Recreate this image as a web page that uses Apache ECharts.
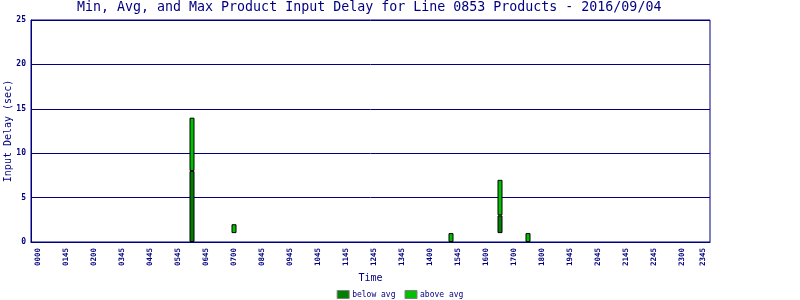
<!DOCTYPE html>
<html><head><meta charset="utf-8">
<script src="https://cdn.jsdelivr.net/npm/echarts@6/dist/echarts.min.js"></script>
<style>html,body{margin:0;padding:0;background:#fff}#c{width:800px;height:300px}</style>
</head><body><div id="c"></div>
<script>
// Time slots (HHMM) that have products, with min / avg / max input delay (sec)
const slotTimes = ['0530', '0700', '1445', '1630', '1730'];
const minDelay  = [0, 1, 0, 1, 0];
const avgDelay  = [8, 1, 0, 3, 0];
const maxDelay  = [14, 2, 1, 7, 1];

// X-axis: 15-minute slots; the labelled slots and the label text shown on them
const tickSlots  = ['0000','0100','0200','0300','0400','0500','0600','0700','0800','0900','1000','1100','1200','1300','1400','1500','1600','1700','1800','1900','2000','2100','2200','2300','2345'];
const tickLabels = ['0000','0145','0200','0345','0445','0545','0645','0700','0845','0945','1045','1145','1245','1345','1400','1545','1600','1700','1800','1945','2045','2145','2245','2300','2345'];

const NAVY = '#000080';
const FONT = "'DejaVu Sans Mono', 'Liberation Mono', monospace";

// category list: a pad slot before 0000, the 96 quarter-hour slots, and 2400 at the end
const pad2 = n => (n < 10 ? '0' : '') + n;
const categories = [''];
for (let h = 0; h < 24; h++) for (let m = 0; m < 60; m += 15) categories.push(pad2(h) + pad2(m));
categories.push('2400');

function seriesFor(fn) {
  return categories.map(c => {
    const i = slotTimes.indexOf(c);
    if (i < 0) return null;
    const v = fn(i);
    return v > 0 ? v : null;
  });
}
const baseData  = seriesFor(i => minDelay[i]);
const belowData = seriesFor(i => avgDelay[i] - minDelay[i]);
const aboveData = seriesFor(i => maxDelay[i] - avgDelay[i]);

const chart = echarts.init(document.getElementById('c'), null, { renderer: 'canvas' });
const barStyle = c => ({ color: c, borderColor: '#000', borderWidth: 1 });
chart.setOption({
  animation: false,
  backgroundColor: '#fff',
  title: {
    text: 'Min, Avg, and Max Product Input Delay for Line 0853 Products - 2016/09/04',
    left: 77, top: 1, padding: 0,
    textStyle: { color: NAVY, fontFamily: FONT, fontSize: 13.3, fontWeight: 'normal' }
  },
  legend: {
    data: ['below avg', 'above avg'],
    top: 290, left: 'center', padding: 0,
    itemWidth: 12, itemHeight: 8, itemGap: 9,
    icon: 'rect',
    itemStyle: { borderColor: '#808080', borderWidth: 1 },
    textStyle: { color: NAVY, fontFamily: FONT, fontSize: 8, padding: [0, 0, 0, -2] }
  },
  grid: {
    left: 31, right: 90, top: 20, bottom: 58,
    containLabel: false, outerBoundsMode: 'none',
    show: true, borderColor: NAVY, borderWidth: 1, backgroundColor: '#fff'
  },
  xAxis: {
    type: 'category', data: categories, boundaryGap: false,
    name: 'Time', nameLocation: 'middle', nameGap: 31, nameMoveOverlap: false,
    nameTextStyle: { color: NAVY, fontFamily: FONT, fontSize: 10 },
    axisLine: { show: true, onZero: false, lineStyle: { color: NAVY, width: 1 } },
    axisTick: { show: false },
    splitLine: { show: false },
    axisLabel: {
      interval: (idx, val) => tickSlots.indexOf(val) >= 0,
      rotate: 90, margin: 6,
      color: NAVY, fontFamily: FONT, fontSize: 7.5, fontWeight: 'bold',
      formatter: v => { const i = tickSlots.indexOf(v); return i >= 0 ? tickLabels[i] : ''; }
    }
  },
  yAxis: {
    type: 'value', min: 0, max: 25, interval: 5,
    name: 'Input Delay (sec)', nameLocation: 'middle', nameGap: 18, nameMoveOverlap: false,
    nameTextStyle: { color: NAVY, fontFamily: FONT, fontSize: 10 },
    axisLine: { show: true, onZero: false, lineStyle: { color: NAVY, width: 1 } },
    axisTick: { show: false },
    splitLine: { show: true, lineStyle: { color: NAVY, width: 1 } },
    axisLabel: { color: NAVY, fontFamily: FONT, fontSize: 8, fontWeight: 'bold', margin: 5 }
  },
  series: [
    { name: 'base', type: 'bar', stack: 'd', barWidth: 5, silent: true,
      itemStyle: { color: 'rgba(0,0,0,0)' }, data: baseData },
    { name: 'below avg', type: 'bar', stack: 'd', barWidth: 5,
      itemStyle: barStyle('#008000'), data: belowData },
    { name: 'above avg', type: 'bar', stack: 'd', barWidth: 5,
      itemStyle: barStyle('#00c000'), data: aboveData }
  ]
});
</script>
</body></html>
